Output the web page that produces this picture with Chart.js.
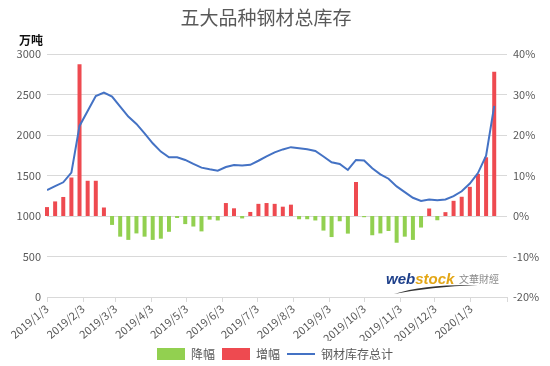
<!DOCTYPE HTML>
<html>
<head>
<meta charset="utf-8">
<script src="https://cdn.jsdelivr.net/npm/chart.js"></script>
<style>
    body { margin: 0; background: #fff; }
</style>
</head>
<body>
<canvas id="myChart" width="550" height="366"></canvas>

<script type="text/javascript">
    const title = '五大品种钢材总库存';
    const unit = '万吨';

    // weekly data points
    const weeks = [
        '2019/1/3', '2019/1/10', '2019/1/17', '2019/1/24', '2019/1/31',
        '2019/2/7', '2019/2/14', '2019/2/21', '2019/2/28',
        '2019/3/7', '2019/3/14', '2019/3/21', '2019/3/28',
        '2019/4/4', '2019/4/11', '2019/4/18', '2019/4/25',
        '2019/5/2', '2019/5/9', '2019/5/16', '2019/5/23', '2019/5/30',
        '2019/6/6', '2019/6/13', '2019/6/20', '2019/6/27',
        '2019/7/4', '2019/7/11', '2019/7/18', '2019/7/25',
        '2019/8/1', '2019/8/8', '2019/8/15', '2019/8/22', '2019/8/29',
        '2019/9/5', '2019/9/12', '2019/9/19', '2019/9/26',
        '2019/10/3', '2019/10/10', '2019/10/17', '2019/10/24', '2019/10/31',
        '2019/11/7', '2019/11/14', '2019/11/21', '2019/11/28',
        '2019/12/5', '2019/12/12', '2019/12/19', '2019/12/26',
        '2020/1/2', '2020/1/9', '2020/1/16', '2020/1/23'
    ];

    // 钢材库存总计 (万吨)
    const stock = [
        1320, 1370, 1416, 1535, 2112,
        2297, 2482, 2523, 2474,
        2350, 2227, 2137, 2021,
        1898, 1795, 1725, 1725,
        1692, 1643, 1597, 1577, 1560,
        1605, 1630, 1625, 1632,
        1682, 1735, 1785, 1822,
        1850, 1836, 1824, 1803, 1735,
        1663, 1643, 1568, 1692,
        1685, 1589, 1515, 1460, 1365,
        1295, 1225, 1185, 1205,
        1195, 1205, 1245, 1305,
        1400, 1530, 1745, 2360
    ];

    // 周环比 (%)
    const change = [
        2.2, 3.6, 4.7, 9.5, 37.5,
        8.7, 8.7, 2.1, -2.2,
        -5.1, -5.9, -4.3, -5.1,
        -5.9, -5.6, -3.9, -0.5,
        -2.0, -2.6, -3.8, -0.9, -1.1,
        3.2, 1.9, -0.6, 1.0,
        3.0, 3.2, 3.0, 2.3,
        2.8, -0.8, -0.8, -1.1, -3.6,
        -5.2, -1.3, -4.35, 8.4,
        -0.3, -4.75, -4.3, -3.7, -6.6,
        -5.1, -5.9, -2.85, 1.85,
        -1.05, 0.95, 3.75, 4.75,
        7.2, 10.4, 14.5, 35.6
    ];

    const tickDates = [
        '2019/1/3', '2019/2/3', '2019/3/3', '2019/4/3', '2019/5/3', '2019/6/3',
        '2019/7/3', '2019/8/3', '2019/9/3', '2019/10/3', '2019/11/3', '2019/12/3',
        '2020/1/3', '2020/2/3'
    ];
    const tickLabels = [
        '2019/1/3', '2019/2/3', '2019/3/3', '2019/4/3', '2019/5/3', '2019/6/3',
        '2019/7/3', '2019/8/3', '2019/9/3', '2019/10/3', '2019/11/3', '2019/12/3',
        '2020/1/3', ''
    ];

    const font = '"Noto Sans CJK SC", sans-serif';
    Chart.defaults.font.family = font;
    Chart.defaults.color = '#595959';

    // days since 2019/1/3
    function toDay(s) {
        const p = s.split('/').map(Number);
        return (Date.UTC(p[0], p[1] - 1, p[2]) - Date.UTC(2019, 0, 3)) / 86400000;
    }

    const xs = weeks.map(toDay);
    const tickDays = tickDates.map(toDay);

    const downData = change.map((v, i) => ({x: xs[i], y: v < 0 ? v : null}));
    const upData = change.map((v, i) => ({x: xs[i], y: v >= 0 ? v : null}));
    const stockData = stock.map((v, i) => ({x: xs[i], y: v}));

    const extras = {
        id: 'extras',
        afterDraw(chart) {
            const c = chart.ctx;
            c.save();
            c.fillStyle = '#595959';
            c.font = '19px ' + font;
            c.textAlign = 'center';
            c.textBaseline = 'middle';
            c.fillText(title, 266, 18);

            c.fillStyle = '#111';
            c.font = 'bold 12px ' + font;
            c.textAlign = 'left';
            c.fillText(unit, 19, 40);

            // watermark logo
            c.textBaseline = 'alphabetic';
            c.font = 'italic bold 15px "Liberation Sans", sans-serif';
            c.fillStyle = '#1d3f8a';
            c.fillText('web', 386, 284);
            const w = c.measureText('web').width;
            c.fillStyle = '#e3a615';
            c.fillText('stock', 386 + w, 284);
            c.font = '10px ' + font;
            c.fillStyle = '#8a8a8a';
            c.fillText('文華財經', 459, 283);
            c.fillStyle = '#333';
            c.beginPath();
            c.moveTo(394, 294);
            c.quadraticCurveTo(425, 284, 478, 285);
            c.quadraticCurveTo(430, 287, 394, 294);
            c.fill();
            c.restore();
        }
    };

    const config = {
        type: 'bar',
        data: {
            datasets: [{
                type: 'bar',
                label: '降幅',
                data: downData,
                backgroundColor: '#92D050',
                yAxisID: 'y1',
                maxBarThickness: 4,
                grouped: false,
                clip: false,
                order: 2
            }, {
                type: 'bar',
                label: '增幅',
                data: upData,
                backgroundColor: '#EE4A50',
                yAxisID: 'y1',
                maxBarThickness: 4,
                grouped: false,
                clip: false,
                order: 2
            }, {
                type: 'line',
                label: '钢材库存总计',
                data: stockData,
                borderColor: '#4472C4',
                backgroundColor: '#4472C4',
                borderWidth: 2,
                pointRadius: 0,
                tension: 0,
                yAxisID: 'y',
                order: 1
            }]
        },
        plugins: [extras],
        options: {
            responsive: false,
            animation: false,
            layout: { autoPadding: false, padding: { top: 54, left: 0, right: 0, bottom: -4 } },
            scales: {
                x: {
                    type: 'linear',
                    min: 0,
                    max: 396,
                    offset: false,
                    afterBuildTicks: (s) => { s.ticks = tickDays.map(v => ({value: v})); },
                    afterFit: (s) => { s.height = 44; },
                    ticks: {
                        autoSkip: false,
                        minRotation: 40,
                        maxRotation: 40,
                        padding: 0,
                        font: { size: 11 },
                        callback: (v, i) => tickLabels[i]
                    },
                    grid: { offset: false, drawOnChartArea: false, tickLength: 5, color: '#D9D9D9' },
                    border: { color: '#D9D9D9' }
                },
                y: {
                    position: 'left',
                    min: 0,
                    max: 3000,
                    afterFit: (s) => { s.width = 47; },
                    ticks: { stepSize: 500, padding: 6, font: { size: 11 }, callback: v => String(v) },
                    grid: { color: '#D9D9D9', drawTicks: false },
                    border: { display: false }
                },
                y1: {
                    position: 'right',
                    min: -20,
                    max: 40,
                    afterFit: (s) => { s.width = 43; },
                    ticks: { stepSize: 10, padding: 6, font: { size: 11 }, callback: v => v + '%' },
                    grid: { display: false, drawTicks: false },
                    border: { display: false }
                }
            },
            plugins: {
                tooltip: { enabled: false },
                legend: {
                    position: 'bottom',
                    labels: {
                        usePointStyle: true,
                        pointStyleWidth: 28,
                        boxHeight: 12,
                        padding: 7,
                        font: { size: 12 },
                        color: '#595959',
                        generateLabels: (chart) => chart.data.datasets.map((d, i) => ({
                            text: d.label,
                            fillStyle: d.type === 'line' ? 'rgba(0,0,0,0)' : d.backgroundColor,
                            strokeStyle: d.type === 'line' ? d.borderColor : d.backgroundColor,
                            lineWidth: d.type === 'line' ? 2 : 0,
                            pointStyle: d.type === 'line' ? 'line' : 'rect',
                            fontColor: '#595959',
                            hidden: false,
                            datasetIndex: i
                        }))
                    }
                }
            }
        }
    };

    const myChart = new Chart(document.getElementById('myChart'), config);
</script>
</body>
</html>
